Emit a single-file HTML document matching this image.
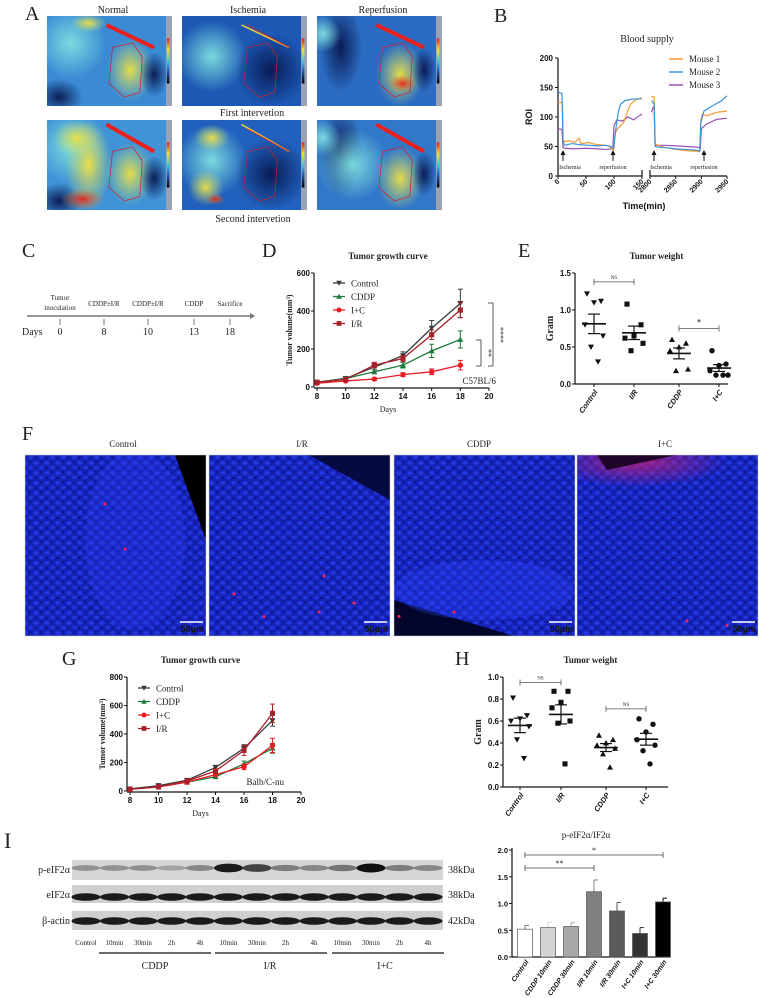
<!DOCTYPE html>
<html><head><meta charset="utf-8">
<style>
html,body{margin:0;padding:0;background:#fff;}
svg{display:block;font-family:"Liberation Serif",serif;}
.t{font-family:"Liberation Serif",serif;fill:#222;}
.s{font-family:"Liberation Sans",sans-serif;font-weight:bold;fill:#111;}
</style></head>
<body>
<svg id="fig" xmlns="http://www.w3.org/2000/svg" width="759" height="998" viewBox="0 0 759 998">
<defs>
 <linearGradient id="cbar" x1="0" y1="0" x2="0" y2="1">
  <stop offset="0" stop-color="#e8141e"/><stop offset="0.25" stop-color="#f5e02a"/>
  <stop offset="0.5" stop-color="#40c8e0"/><stop offset="0.75" stop-color="#1e50b4"/><stop offset="1" stop-color="#000"/>
 </linearGradient>
 <radialGradient id="gCyan"><stop offset="0" stop-color="#7fe0e0" stop-opacity="0.95"/><stop offset="1" stop-color="#7fe0e0" stop-opacity="0"/></radialGradient>
 <radialGradient id="gYel"><stop offset="0" stop-color="#f0e040" stop-opacity="0.95"/><stop offset="1" stop-color="#c8e070" stop-opacity="0"/></radialGradient>
 <radialGradient id="gDark"><stop offset="0" stop-color="#081850" stop-opacity="0.95"/><stop offset="1" stop-color="#081850" stop-opacity="0"/></radialGradient>
 <radialGradient id="gRed"><stop offset="0" stop-color="#e8201e" stop-opacity="0.95"/><stop offset="1" stop-color="#e8801e" stop-opacity="0"/></radialGradient>
 <radialGradient id="gMag"><stop offset="0" stop-color="#c0207a" stop-opacity="0.8"/><stop offset="1" stop-color="#c0207a" stop-opacity="0"/></radialGradient>
 <pattern id="cells" width="11" height="10" patternUnits="userSpaceOnUse">
  <rect width="11" height="10" fill="#1522b8"/>
  <ellipse cx="3" cy="3" rx="2.6" ry="1.9" fill="#2438e0"/>
  <ellipse cx="8.5" cy="7.5" rx="2.3" ry="1.7" fill="#2236dc"/>
  <ellipse cx="8" cy="2" rx="1" ry="0.8" fill="#070c60"/>
  <ellipse cx="2.5" cy="8" rx="1.2" ry="0.8" fill="#070c60"/>
 </pattern>
</defs>
<g id="root"></g>
</svg>
<script>
// ---------- data ----------
const bM1aT=[0,8,9,12,20,30,38,40,45,55,65,75,85,92,98,100,102,106,112,118,125,130,140,150];
const bM1aV=[125,124,62,58,60,57,64,56,55,57,54,53,52,50,44,46,72,80,85,92,112,122,130,132];
const bM2aT=[0,7,9,12,25,40,55,70,85,95,99,101,104,108,112,120,130,150];
const bM2aV=[142,140,58,52,55,53,52,51,52,50,47,60,85,110,122,128,130,131];
const bM3aT=[0,7,9,12,30,50,70,85,95,98,100,105,115,125,135,145,150];
const bM3aV=[80,79,48,47,46,47,46,45,46,48,85,95,93,100,95,102,105];
const bM1bT=[2803,2808,2810,2815,2830,2850,2870,2890,2895,2897,2899,2902,2910,2930,2950];
const bM1bV=[135,134,55,52,48,45,43,42,41,44,95,105,102,108,110];
const bM2bT=[2803,2808,2810,2815,2830,2850,2870,2890,2895,2897,2899,2905,2920,2940,2950];
const bM2bV=[128,122,50,49,48,46,45,44,43,42,90,110,118,128,136];
const bM3bT=[2803,2806,2808,2810,2830,2850,2870,2890,2896,2898,2900,2910,2930,2950];
const bM3bV=[108,116,118,52,52,51,50,49,48,47,80,88,96,98];
const bXTicks1=[0,50,100,150];
const bXTicks2=[2800,2850,2900,2950];
const bYTicks=[0,50,100,150,200];

const days=[8,10,12,14,16,18];
const dayTicks=[8,10,12,14,16,18,20];
const dControl=[25,45,105,165,310,440];
const dControlErr=[5,8,15,20,40,75];
const dCDDP=[25,45,80,115,190,250];
const dCDDPErr=[5,8,10,15,35,45];
const dIC=[20,32,42,65,80,115];
const dICErr=[4,5,6,10,15,25];
const dIR=[25,40,115,150,275,405];
const dIRErr=[5,6,15,15,25,40];
const dYTicks=[0,200,400,600];

const gControl=[15,38,75,165,300,495];
const gControlErr=[5,6,8,15,25,40];
const gCDDP=[12,30,62,100,190,300];
const gCDDPErr=[3,5,6,10,20,35];
const gIC=[12,28,62,115,170,320];
const gICErr=[3,5,6,12,20,50];
const gIR=[12,30,70,140,285,545];
const gIRErr=[3,5,8,15,35,65];
const gYTicks=[0,200,400,600,800];

const wCats=["Control","I/R","CDDP","I+C"];
const eControl=[1.22,1.12,1.1,0.8,0.65,0.5,0.3];
const eIR=[1.08,0.8,0.65,0.62,0.55,0.45];
const eCDDP=[0.6,0.55,0.5,0.45,0.2,0.18];
const eIC=[0.45,0.27,0.25,0.18,0.12,0.12,0.12];
const eYTicks=[0.0,0.5,1.0,1.5];
const hControl=[0.81,0.65,0.62,0.6,0.55,0.43,0.26];
const hIR=[0.87,0.87,0.77,0.72,0.6,0.58,0.21];
const hCDDP=[0.47,0.43,0.4,0.38,0.35,0.3,0.18];
const hIC=[0.62,0.57,0.5,0.43,0.38,0.33,0.21];
const hYTicks=[0.0,0.2,0.4,0.6,0.8,1.0];

const iCats=["Control","CDDP 10min","CDDP 30min","I/R 10min","I/R 30min","I+C 10min","I+C 30min"];
const iVals=[0.52,0.55,0.57,1.22,0.86,0.44,1.03];
const iErrs=[0.07,0.1,0.07,0.22,0.16,0.11,0.07];
const iYTicks=[0.0,0.5,1.0,1.5,2.0];
const iColors=["#ffffff","#d4d4d4","#a8a8aa","#808080","#5a5a5a","#333333","#000000"];

const lanes=["Control","10min","30min","2h","4h","10min","30min","2h","4h","10min","30min","2h","4h"];
const pBand=[0.35,0.35,0.35,0.25,0.4,0.95,0.75,0.45,0.4,0.5,1.0,0.45,0.4];

// ---------- helpers ----------
const NS="http://www.w3.org/2000/svg";
const root=document.getElementById('root');
function mk(tag,attrs,name,parent){
  const e=document.createElementNS(NS,tag);
  for(const k in attrs) e.setAttribute(k,attrs[k]);
  
  
  (parent||root).appendChild(e);
  return e;
}
function txt(x,y,s,name,cls,size,anchor,extra){
  const a=Object.assign({x:x,y:y,'class':cls||'t','font-size':size||10,'text-anchor':anchor||'middle'},extra||{});
  const e=mk('text',a,name);
  e.textContent=s;
  return e;
}
function lin(x1,y1,x2,y2,name,col,w,g){return mk('line',{x1:x1,y1:y1,x2:x2,y2:y2,stroke:col||'#111','stroke-width':w||1},name,g);}
function scale(d0,d1,r0,r1){return v=>r0+(v-d0)*(r1-r0)/(d1-d0);}
function marker(g,shape,x,y,r,col,name){
  if(shape==='tri-down') mk('polygon',{points:`${x-r},${y-r*0.8} ${x+r},${y-r*0.8} ${x},${y+r}`,fill:col},name,g);
  else if(shape==='tri-up') mk('polygon',{points:`${x-r},${y+r*0.8} ${x+r},${y+r*0.8} ${x},${y-r}`,fill:col},name,g);
  else if(shape==='square') mk('rect',{x:x-r*0.85,y:y-r*0.85,width:r*1.7,height:r*1.7,fill:col},name,g);
  else mk('circle',{cx:x,cy:y,r:r*0.9,fill:col},name,g);
}

// ---------- Panel A ----------
txt(25,20,"A","panel-a-label","t",20,"start");
txt(113,13,"Normal","col-title-normal","t",10);
txt(248,13,"Ischemia","col-title-ischemia","t",10);
txt(383,13,"Reperfusion","col-title-reperfusion","t",10);
txt(252,116,"First intervetion","row-label-first","t",10);
txt(253,222,"Second intervetion","row-label-second","t",10);
const aCols=[47,182,317], aRows=[16,120];
const aBase=[["#3a8ad4","#1c58b4","#2b6cc2"],["#3f93d6","#2160bc","#3278c8"]];
let clipId=0;
function heat(x,y,w,h,ri,ci){
  const id='clipA'+(clipId++);
  const cp=mk('clipPath',{id:id},'clip');
  mk('rect',{x:x,y:y,width:w,height:h},'clip-rect',cp);
  const g=mk('g',{'clip-path':`url(#${id})`},`perfusion-image-r${ri}-c${ci}`);
  mk('rect',{x:x,y:y,width:w,height:h,fill:aBase[ri][ci]},'image-bg',g);
  const E=(cx,cy,rx,ry,f,n)=>mk('ellipse',{cx:x+cx*w,cy:y+cy*h,rx:rx*w,ry:ry*h,fill:`url(#${f})`},n||'blob',g);
  if(ci===0){E(.2,.3,.3,.4,'gCyan');E(.7,.6,.2,.35,'gYel');E(.9,.65,.12,.25,'gDark');E(.1,.9,.2,.2,'gDark');
    if(ri===1){E(.35,.5,.2,.5,'gYel');E(.3,.88,.18,.12,'gRed');E(.25,.2,.2,.2,'gYel');}
    else{E(.35,.08,.15,.1,'gYel');}}
  if(ci===1){E(.25,.45,.3,.4,'gCyan');E(.75,.6,.3,.4,'gDark');
    if(ri===1){E(.2,.75,.15,.2,'gYel');E(.25,.2,.15,.15,'gYel');E(.28,.88,.08,.06,'gRed');}}
  if(ci===2){E(.2,.35,.18,.5,'gDark');E(.7,.65,.2,.35,'gYel');E(.9,.6,.1,.25,'gDark');E(.05,.2,.15,.2,'gCyan');
    if(ri===0){E(.72,.75,.12,.1,'gRed');}else{E(.3,.5,.3,.4,'gCyan');}}
  const thick=ci===1?1.5:4;
  mk('line',{x1:x+w*0.5,y1:y+h*(ri?0.05:0.1),x2:x+w*0.9,y2:y+h*0.35,stroke:ci===1?'#f0d040':'#e8201e','stroke-width':thick},'vessel',g);
  if(ci===1) mk('line',{x1:x+w*0.55,y1:y+h*0.1,x2:x+w*0.9,y2:y+h*0.35,stroke:'#e8201e','stroke-width':0.8},'vessel-core',g);
  mk('path',{d:`M${x+w*.55},${y+h*.35} L${x+w*.72},${y+h*.3} L${x+w*.8},${y+h*.45} L${x+w*.78},${y+h*.85} L${x+w*.65},${y+h*.9} L${x+w*.52},${y+h*.75} Z`,fill:'none',stroke:'#d02030','stroke-width':0.7},'roi-outline',g);
  mk('rect',{x:x+w,y:y,width:6,height:h,fill:'#9aa2b4'},'colorbar-bg');
  mk('rect',{x:x+w+0.8,y:y+h*0.25,width:2.6,height:h*0.5,fill:'url(#cbar)'},'colorbar');
}
for(let r=0;r<2;r++)for(let c=0;c<3;c++)heat(aCols[c],aRows[r],119,90,r,c);

// ---------- Panel B ----------
txt(494,22,"B","panel-b-label","t",20,"start");
txt(647,42,"Blood supply","chart-title-b","t",10);
const bY=scale(0,200,176,58), bX1=scale(0,150,558,642), bX2=scale(2800,2950,650,727);
const gb=mk('g',{},'chart-b');
lin(558,58,558,176,'y-axis-b','#111',1.2,gb);
lin(558,176,642,176,'x-axis-b-left','#111',1.2,gb);
lin(650,176,727,176,'x-axis-b-right','#111',1.2,gb);
lin(650,170,650,176,'axis-break','#111',1.2,gb);
lin(642,170,642,176,'axis-break','#111',1.2,gb);
bYTicks.forEach(v=>{lin(555,bY(v),558,bY(v),'y-tick-b','#111',1,gb);txt(553,bY(v)+3,String(v),'y-tick-label-b','s',8,'end');});
bXTicks1.forEach(v=>{lin(bX1(v),176,bX1(v),179,'x-tick-b','#111',1,gb);txt(bX1(v)+2,182,String(v),'x-tick-label-b','s',7,'end',{transform:`rotate(-45 ${bX1(v)+2} 182)`});});
bXTicks2.forEach(v=>{lin(bX2(v),176,bX2(v),179,'x-tick-b','#111',1,gb);txt(bX2(v)+2,182,String(v),'x-tick-label-b','s',7,'end',{transform:`rotate(-45 ${bX2(v)+2} 182)`});});
txt(532,117,"ROI","y-axis-title-b","s",9,"middle",{transform:'rotate(-90 532 117)'});
txt(644,209,"Time(min)","x-axis-title-b","s",9);
const bCols=["#f59a30","#3a92dc","#9a50b4"];
function bLine(T,V,sx,col,name){mk('polyline',{points:T.map((t,i)=>`${sx(t)},${bY(V[i])}`).join(' '),fill:'none',stroke:col,'stroke-width':1.2},name,gb);}
bLine(bM3aT,bM3aV,bX1,bCols[2],'line-mouse3-a');bLine(bM1aT,bM1aV,bX1,bCols[0],'line-mouse1-a');bLine(bM2aT,bM2aV,bX1,bCols[1],'line-mouse2-a');
bLine(bM3bT,bM3bV,bX2,bCols[2],'line-mouse3-b');bLine(bM1bT,bM1bV,bX2,bCols[0],'line-mouse1-b');bLine(bM2bT,bM2bV,bX2,bCols[1],'line-mouse2-b');
["Mouse 1","Mouse 2","Mouse 3"].forEach((s,i)=>{const y=59+i*13;lin(669,y,683,y,'legend-line-b',bCols[i],1.5);txt(689,y+3,s,'legend-entry-b','t',9,'start');});
[[563,"Ischemia"],[613,"reperfusion"],[654,"Ischemia"],[704,"reperfusion"]].forEach(a=>{
  lin(a[0],152,a[0],161,'event-arrow','#111',1);mk('polygon',{points:`${a[0]-2.5},${155} ${a[0]+2.5},${155} ${a[0]},${150}`,fill:'#111'},'arrow-head');
  txt(a[0]+(a[1]==="Ischemia"?7:0),169,a[1],'event-label','t',6);});

// ---------- Panel C ----------
txt(22,257,"C","panel-c-label","t",20,"start");
lin(27,316,250,316,'timeline','#777',1.5);
mk('polygon',{points:'250,313 255,316 250,319',fill:'#777'},'timeline-arrow');
txt(60,300,"Tumor","tl-label","t",7);txt(60,310,"inoculation","tl-label","t",7);
[[104,"CDDP±I/R","8"],[148,"CDDP±I/R","10"],[194,"CDDP","13"],[230,"Sacrifice","18"],[60,"","0"]].forEach(a=>{
  if(a[1])txt(a[0],306,a[1],'tl-label','t',7);
  lin(a[0],319,a[0],325,'tl-tick','#555',0.8);
  txt(a[0],335,a[2],'tl-day','t',10);});
txt(22,335,"Days","tl-days-title","t",10,"start");

// ---------- Line charts D and G ----------
function growth(cfg){
  const g=mk('g',{},cfg.name);
  const X=scale(8,20,cfg.x0,cfg.x1), Y=scale(0,cfg.ymax,cfg.y0,cfg.y1);
  lin(cfg.x0-3,cfg.y1,cfg.x0-3,cfg.y0,'y-axis','#111',1.2,g);
  lin(cfg.x0-3,cfg.y0+1,cfg.x1,cfg.y0+1,'x-axis','#111',1.2,g);
  cfg.yt.forEach(v=>{lin(cfg.x0-6,Y(v),cfg.x0-3,Y(v),'y-tick','#111',1,g);txt(cfg.x0-7,Y(v)+3,String(v),'y-tick-label','s',8,'end');});
  dayTicks.forEach(v=>{lin(X(v),cfg.y0+1,X(v),cfg.y0+4,'x-tick','#111',1,g);txt(X(v),cfg.y0+12,String(v),'x-tick-label','s',8);});
  txt((cfg.x0+cfg.x1)/2-15,cfg.y0+25,"Days",'x-axis-title','t',8);
  const yc=(cfg.y0+cfg.y1)/2;
  txt(cfg.x0-25,yc,"Tumor volume(mm³)",'y-axis-title','t',8,'middle',{transform:`rotate(-90 ${cfg.x0-25} ${yc})`,'font-weight':'bold'});
  txt((cfg.x0+cfg.x1)/2-15,cfg.y1-14,"Tumor growth curve",'chart-title','t',9,'middle',{'font-weight':'bold'});
  cfg.series.forEach(s=>{
    mk('polyline',{points:days.map((d,i)=>`${X(d)},${Y(s.v[i])}`).join(' '),fill:'none',stroke:s.c,'stroke-width':1.3},'line-'+s.n,g);
    days.forEach((d,i)=>{const x=X(d);lin(x,Y(s.v[i]-s.e[i]),x,Y(s.v[i]+s.e[i]),'error-bar',s.c,1,g);
      lin(x-2.5,Y(s.v[i]+s.e[i]),x+2.5,Y(s.v[i]+s.e[i]),'error-cap',s.c,1,g);lin(x-2.5,Y(s.v[i]-s.e[i]),x+2.5,Y(s.v[i]-s.e[i]),'error-cap',s.c,1,g);
      marker(g,s.m,x,Y(s.v[i]),3,s.c,'point-'+s.n);});
  });
  cfg.series.forEach((s,i)=>{const y=cfg.ly+i*13.5;lin(cfg.lx-6,y,cfg.lx+6,y,'legend-line',s.c,1.3);marker(root,s.m,cfg.lx,y,2.8,s.c,'legend-marker');txt(cfg.lx+12,y+3.5,s.label,'legend-entry','t',9,'start');});
  txt(cfg.strainX,cfg.strainY,cfg.strain,'strain-label','t',9,'end');
  return {X,Y};
}
const serDefs=(c,ce,cd,cde,ic,ice,ir,ire)=>[
 {n:'control',label:'Control',v:c,e:ce,c:'#3a3a3a',m:'tri-down'},
 {n:'cddp',label:'CDDP',v:cd,e:cde,c:'#1c7a3c',m:'tri-up'},
 {n:'ic',label:'I+C',v:ic,e:ice,c:'#ec1c24',m:'circle'},
 {n:'ir',label:'I/R',v:ir,e:ire,c:'#a8202a',m:'square'}];
txt(262,257,"D","panel-d-label","t",20,"start");
growth({name:'chart-d',x0:317,x1:489,y0:387,y1:273,ymax:600,yt:dYTicks,lx:339,ly:283,strain:'C57BL/6',strainX:496,strainY:384,
 series:serDefs(dControl,dControlErr,dCDDP,dCDDPErr,dIC,dICErr,dIR,dIRErr)});
lin(488,303,493,303,'sig-bracket','#333',0.8);lin(493,303,493,366,'sig-bracket','#333',0.8);lin(488,366,493,366,'sig-bracket','#333',0.8);
txt(498,335,"****",'sig-label','t',8,'middle',{transform:'rotate(90 498 335)'});
lin(476,340,481,340,'sig-bracket','#333',0.8);lin(481,340,481,366,'sig-bracket','#333',0.8);lin(476,366,481,366,'sig-bracket','#333',0.8);
txt(486,353,"**",'sig-label','t',8,'middle',{transform:'rotate(90 486 353)'});

txt(62,665,"G","panel-g-label","t",20,"start");
growth({name:'chart-g',x0:130,x1:301,y0:791,y1:677,ymax:800,yt:gYTicks,lx:144,ly:688,strain:'Balb/C-nu',strainX:284,strainY:785,
 series:serDefs(gControl,gControlErr,gCDDP,gCDDPErr,gIC,gICErr,gIR,gIRErr)});

// ---------- Scatter E and H ----------
const jit=[-7,7,0,-9,9,-3,4];
function scatter(cfg){
  const g=mk('g',{},cfg.name);
  const Y=scale(0,cfg.ymax,cfg.y0,cfg.y1);
  lin(cfg.x0,cfg.y1,cfg.x0,cfg.y0,'y-axis','#111',1.2,g);
  lin(cfg.x0,cfg.y0,cfg.xe,cfg.y0,'x-axis','#111',1.2,g);
  cfg.yt.forEach(v=>{lin(cfg.x0-3,Y(v),cfg.x0,Y(v),'y-tick','#111',1,g);txt(cfg.x0-4,Y(v)+3,v.toFixed(1),'y-tick-label','s',8,'end');});
  const yc=(cfg.y0+cfg.y1)/2;
  txt(cfg.x0-22,yc,"Gram",'y-axis-title','t',10,'middle',{transform:`rotate(-90 ${cfg.x0-22} ${yc})`,'font-weight':'bold'});
  txt((cfg.x0+cfg.xe)/2+5,cfg.y1-14,"Tumor weight",'chart-title','t',9,'middle',{'font-weight':'bold'});
  const shapes=['tri-down','square','tri-up','circle'];
  cfg.groups.forEach((arr,gi)=>{
    const cx=cfg.cx[gi];
    lin(cx,cfg.y0,cx,cfg.y0+3,'x-tick','#111',1,g);
    txt(cx+4,cfg.y0+8,wCats[gi],'x-tick-label','s',7.5,'end',{transform:`rotate(-55 ${cx+4} ${cfg.y0+8})`,'font-style':'italic'});
    arr.forEach((v,i)=>marker(g,shapes[gi],cx+jit[i%jit.length],Y(v),3,'#111','point-'+wCats[gi]));
    const m=arr.reduce((a,b)=>a+b,0)/arr.length;
    const sd=Math.sqrt(arr.reduce((a,b)=>a+(b-m)*(b-m),0)/(arr.length-1));
    const se=sd/Math.sqrt(arr.length);
    lin(cx-12,Y(m),cx+12,Y(m),'mean-line','#111',1.6,g);
    lin(cx,Y(m-se),cx,Y(m+se),'sem-bar','#111',1.2,g);
    lin(cx-6,Y(m+se),cx+6,Y(m+se),'sem-cap','#111',1.2,g);lin(cx-6,Y(m-se),cx+6,Y(m-se),'sem-cap','#111',1.2,g);
  });
  cfg.br.forEach(b=>{const y=Y(b[2]);lin(cfg.cx[b[0]],y,cfg.cx[b[1]],y,'sig-bracket','#555',0.8,g);
    lin(cfg.cx[b[0]],y-3,cfg.cx[b[0]],y+3,'sig-bracket','#555',0.8,g);lin(cfg.cx[b[1]],y-3,cfg.cx[b[1]],y+3,'sig-bracket','#555',0.8,g);
    txt((cfg.cx[b[0]]+cfg.cx[b[1]])/2,y-3,b[3],'sig-label','t',b[3]==='*'?9:5);});
}
txt(518,257,"E","panel-e-label","t",20,"start");
scatter({name:'chart-e',x0:575,xe:728,y0:384,y1:273,ymax:1.5,yt:eYTicks,cx:[594,634,679,719],groups:[eControl,eIR,eCDDP,eIC],br:[[0,1,1.38,'NS'],[2,3,0.75,'*']]});
txt(455,665,"H","panel-h-label","t",20,"start");
scatter({name:'chart-h',x0:503,xe:668,y0:787,y1:677,ymax:1.0,yt:hYTicks,cx:[520,561,606,646],groups:[hControl,hIR,hCDDP,hIC],br:[[0,1,0.95,'NS'],[2,3,0.71,'NS']]});

// ---------- Panel F ----------
txt(22,440,"F","panel-f-label","t",20,"start");
const fX=[25,209,394,577], fT=["Control","I/R","CDDP","I+C"], fC=[123,302,479,665];
fX.forEach((x,i)=>{
  txt(fC[i],447,fT[i],'image-title','t',9);
  const id='clipF'+i;const cp=mk('clipPath',{id:id},'clip');mk('rect',{x:x,y:455,width:181,height:181},'clip-rect',cp);
  const g=mk('g',{'clip-path':`url(#${id})`},'if-image-'+fT[i]);
  mk('rect',{x:x,y:455,width:181,height:181,fill:'url(#cells)'},'nuclei',g);
  if(i===0){mk('polygon',{points:`${x+150},455 ${x+181},455 ${x+181},540`,fill:'#000'},'dark-region',g);mk('ellipse',{cx:x+110,cy:540,rx:50,ry:90,fill:'#2a3cf0',opacity:0.3},'bright-region',g);}
  if(i===1){mk('polygon',{points:`${x+100},455 ${x+181},455 ${x+181},500`,fill:'#050a40'},'dark-region',g);}
  if(i===2){mk('polygon',{points:`${x},600 ${x},636 ${x+120},636`,fill:'#03062a'},'dark-region',g);mk('ellipse',{cx:x+90,cy:590,rx:90,ry:30,fill:'#3046ff',opacity:0.3},'bright-band',g);}
  if(i===3){mk('ellipse',{cx:x+60,cy:462,rx:90,ry:25,fill:'url(#gMag)'},'red-band',g);mk('polygon',{points:`${x+20},455 ${x+100},455 ${x+30},470`,fill:'#20052a'},'dark-region',g);}
  const dots=[[0,[[80,60],[100,110]]],[1,[[25,160],[55,185],[110,180],[145,170],[130,210],[115,140]]],[2,[[5,185],[100,245],[95,237],[60,180],[120,265]]],[3,[[110,190],[130,210],[115,225],[150,195],[160,240],[60,245]]]];
  dots[i][1].forEach(d=>mk('circle',{cx:x+d[0],cy:440+d[1]*0.9+10,r:1.5,fill:'#ff2050'},'apoptotic-dot',g));
  lin(x+155,622,x+178,622,'scale-bar','#fff',1.5);
  txt(x+179,632,"50µm",'scale-label','s',9,'end',{fill:'#fff','font-weight':'normal'});
  mk('rect',{x:x,y:455,width:181,height:181,fill:'none',stroke:'#ccc','stroke-width':0.5},'image-border');
});

// ---------- Panel I blots ----------
txt(4,848,"I","panel-i-label","t",22,"start");
const laneX=lanes.map((_,i)=>86+i*28.5);
const strips=[[860,20,'p-eIF2α','38kDa',868],[885,18,'eIF2α','38kDa',897],[911,19,'β-actin','42kDa',921]];
strips.forEach((s,si)=>{
  const g=mk('g',{},'blot-'+s[2]);
  mk('rect',{x:72,y:s[0],width:371,height:s[1],fill:si===0?'#d6d6d6':'#d0d0d0'},'blot-bg',g);
  laneX.forEach((x,i)=>{
    const a=si===0?pBand[i]:0.95;
    mk('ellipse',{cx:x,cy:s[4],rx:14.5,ry:si===0?2+a*2.5:3.8,fill:'#111',opacity:a},'band',g);});
  txt(70,s[0]+13,s[2],'blot-label','t',10,'end');
  txt(448,s[0]+13,s[3],'kda-label','t',10,'start');
});
lanes.forEach((l,i)=>txt(laneX[i],945,l,'lane-label','t',7));
[[99,211,155,'CDDP'],[215,327,270,'I/R'],[332,444,385,'I+C']].forEach(a=>{lin(a[0],953,a[1],953,'group-line','#111',1.3);txt(a[2],969,a[3],'group-label','t',10);});

// ---------- Panel I bar chart ----------
const gi=mk('g',{},'chart-i');
const iY=scale(0,2,957,850);
txt(586,838,"p-eIF2α/IF2α","chart-title-i","t",9);
lin(512,848,512,957,'y-axis-i','#111',1.2,gi);
lin(512,957,670,957,'x-axis-i','#111',1.2,gi);
iYTicks.forEach(v=>{lin(509,iY(v),512,iY(v),'y-tick-i','#111',1,gi);txt(508,iY(v)+3,v.toFixed(1),'y-tick-label-i','s',7.5,'end');});
const iX=i=>525+i*23;
iVals.forEach((v,i)=>{
  const x=iX(i);
  lin(x,iY(v),x,iY(v+iErrs[i]),'error-bar-i',iColors[i]==='#ffffff'?'#777':iColors[i],1,gi);
  lin(x,iY(v+iErrs[i]),x+4,iY(v+iErrs[i]),'error-cap-i',iColors[i]==='#ffffff'?'#777':iColors[i],1,gi);
  mk('rect',{x:x-7.5,y:iY(v),width:15,height:iY(0)-iY(v),fill:iColors[i],stroke:'#555','stroke-width':0.7},'bar-'+iCats[i].replace(/\W+/g,'-').toLowerCase(),gi);
  txt(x+4,962,iCats[i],'x-tick-label-i','s',7,'end',{transform:`rotate(-55 ${x+4} 962)`,'font-style':'italic'});
});
[[0,6,855,'*'],[0,3,868,'**']].forEach(b=>{lin(iX(b[0]),b[2],iX(b[1]),b[2],'sig-bracket-i','#444',0.8);
  lin(iX(b[0]),b[2]-3,iX(b[0]),b[2]+3,'sig-bracket-i','#444',0.8);lin(iX(b[1]),b[2]-3,iX(b[1]),b[2]+3,'sig-bracket-i','#444',0.8);
  txt((iX(b[0])+iX(b[1]))/2,b[2]-2,b[3],'sig-label-i','t',8);});
</script>
</body></html>
